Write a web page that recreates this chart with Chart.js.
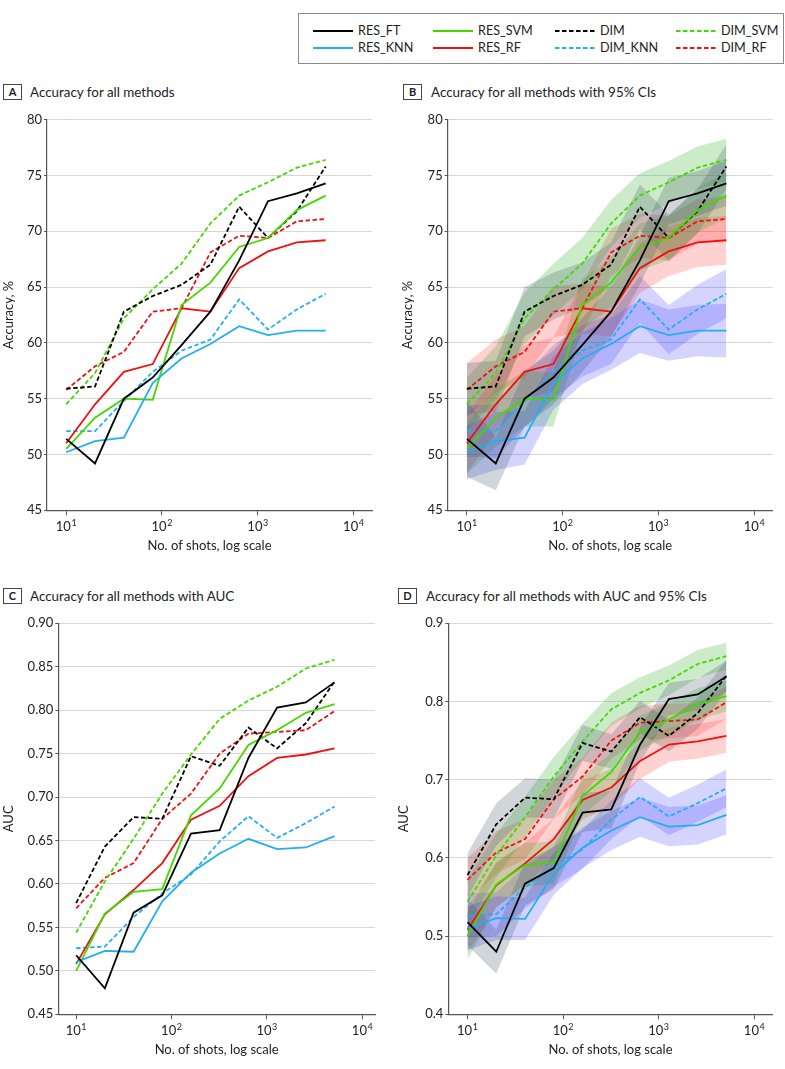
<!DOCTYPE html>
<html>
<head>
<meta charset="utf-8">
<script src="https://cdn.jsdelivr.net/npm/chart.js@4"></script>
<style>
body { margin: 0; background: #fff; font-family: Lato, 'Noto Sans', sans-serif; color: #222; }
#page { position: relative; width: 785px; height: 1069px; overflow: hidden; }
#legend { position: absolute; left: 298px; top: 13px; width: 486px; height: 51px; border: 1px solid #8a8a8a; box-sizing: border-box; }
.item { position: absolute; height: 14px; font-size: 12.6px; line-height: 14px; white-space: nowrap; }
.item svg { position: absolute; left: 0; top: 5px; }
.item span { position: absolute; left: 45px; top: 0; }
.tag { position: absolute; width: 17px; height: 14px; border: 1px solid #444; font-weight: bold; font-size: 11px; text-align: center; line-height: 14px; }
.title { position: absolute; font-size: 13.4px; line-height: 16px; white-space: nowrap; }
canvas { position: absolute; }
</style>
</head>
<body>
<div id="page">
  <div id="legend"></div>
  <div class="tag" style="left:3px;top:84px">A</div>
  <div class="title" style="left:30px;top:84px">Accuracy for all methods</div>
  <div class="tag" style="left:403px;top:84px">B</div>
  <div class="title" style="left:431px;top:84px">Accuracy for all methods with 95% CIs</div>
  <div class="tag" style="left:3px;top:588px">C</div>
  <div class="title" style="left:30px;top:588px">Accuracy for all methods with AUC</div>
  <div class="tag" style="left:398px;top:588px">D</div>
  <div class="title" style="left:426px;top:588px">Accuracy for all methods with AUC and 95% CIs</div>
  <canvas id="chartA" width="385" height="460" style="left:0px;top:100px"></canvas>
  <canvas id="chartB" width="390" height="460" style="left:395px;top:100px"></canvas>
  <canvas id="chartC" width="390" height="464" style="left:0px;top:600px"></canvas>
  <canvas id="chartD" width="390" height="464" style="left:395px;top:600px"></canvas>
</div>
<script>
// number of shots (x values)
var shots = [10, 20, 40, 80, 160, 320, 640, 1280, 2560, 5120];
var xTicks = [10, 100, 1000, 10000];
var xTickBase = '10';
var xTickExp = ['1', '2', '3', '4'];

var seriesNames = ['RES_FT', 'RES_KNN', 'RES_SVM', 'RES_RF', 'DIM', 'DIM_KNN', 'DIM_SVM', 'DIM_RF'];
var seriesColors = ['#000000', '#22aef0', '#44d800', '#f01010', '#000000', '#22aef0', '#44d800', '#f01010'];
var seriesDashed = [false, false, false, false, true, true, true, true];
var bandColors = ['rgba(60,85,100,0.24)', 'rgba(40,40,255,0.2)', 'rgba(40,170,30,0.24)', 'rgba(255,40,40,0.21)',
                  'rgba(60,85,100,0.24)', 'rgba(40,40,255,0.2)', 'rgba(40,170,30,0.24)', 'rgba(255,40,40,0.21)'];

// accuracy, %
var accResFt  = [51.4, 49.2, 55.0, 56.9, 59.8, 62.8, 67.4, 72.7, 73.4, 74.3];
var accResKnn = [50.2, 51.2, 51.5, 56.4, 58.6, 59.9, 61.5, 60.7, 61.1, 61.1];
var accResSvm = [50.5, 53.3, 55.0, 54.9, 63.4, 65.4, 68.6, 69.4, 71.9, 73.2];
var accResRf  = [51.0, 54.5, 57.4, 58.1, 63.1, 62.8, 66.7, 68.2, 69.0, 69.2];
var accDim    = [55.9, 56.1, 62.8, 64.2, 65.2, 67.0, 72.2, 69.4, 71.8, 75.8];
var accDimKnn = [52.1, 52.1, 54.8, 57.4, 59.3, 60.3, 63.9, 61.2, 63.0, 64.4];
var accDimSvm = [54.5, 57.3, 62.2, 64.8, 67.1, 70.7, 73.2, 74.4, 75.7, 76.4];
var accDimRf  = [55.8, 57.9, 59.2, 62.8, 63.1, 68.1, 69.6, 69.4, 70.9, 71.1];

// 95% CI half widths for accuracy
var ciAccResFt  = [3.4, 2.4, 2.5, 2.4, 2.4, 2.3, 2.2, 2.1, 2.0, 2.0];
var ciAccResKnn = [2.4, 2.6, 2.4, 2.4, 2.3, 2.3, 2.4, 2.3, 2.3, 2.4];
var ciAccResSvm = [2.2, 2.6, 2.5, 2.4, 2.3, 2.2, 2.1, 2.0, 2.0, 2.0];
var ciAccResRf  = [2.6, 2.6, 2.4, 2.4, 2.3, 2.2, 2.2, 2.2, 2.2, 2.2];
var ciAccDim    = [2.3, 2.3, 2.2, 2.1, 2.0, 2.0, 2.0, 2.1, 2.0, 2.0];
var ciAccDimKnn = [2.3, 2.4, 2.4, 2.4, 2.3, 2.2, 2.1, 2.2, 2.2, 2.2];
var ciAccDimSvm = [2.4, 2.4, 2.3, 2.3, 2.3, 2.1, 2.0, 1.9, 1.9, 1.9];
var ciAccDimRf  = [2.4, 2.4, 2.3, 2.3, 2.2, 2.1, 2.0, 2.0, 2.0, 2.0];

// AUC
var aucResFt  = [0.518, 0.480, 0.567, 0.587, 0.658, 0.662, 0.745, 0.803, 0.809, 0.832];
var aucResKnn = [0.510, 0.523, 0.522, 0.580, 0.613, 0.635, 0.652, 0.640, 0.642, 0.655];
var aucResSvm = [0.500, 0.566, 0.591, 0.594, 0.679, 0.710, 0.760, 0.777, 0.797, 0.807];
var aucResRf  = [0.508, 0.565, 0.593, 0.624, 0.674, 0.690, 0.724, 0.745, 0.749, 0.756];
var aucDim    = [0.578, 0.643, 0.677, 0.675, 0.747, 0.736, 0.780, 0.756, 0.785, 0.833];
var aucDimKnn = [0.526, 0.528, 0.562, 0.589, 0.611, 0.649, 0.678, 0.653, 0.670, 0.689];
var aucDimSvm = [0.544, 0.603, 0.652, 0.704, 0.749, 0.790, 0.811, 0.827, 0.848, 0.858];
var aucDimRf  = [0.572, 0.607, 0.624, 0.675, 0.704, 0.750, 0.773, 0.775, 0.777, 0.799];

// 95% CI half widths for AUC
var ciAucResFt  = [0.030, 0.028, 0.028, 0.027, 0.025, 0.024, 0.022, 0.021, 0.020, 0.020];
var ciAucResKnn = [0.028, 0.028, 0.027, 0.027, 0.026, 0.025, 0.025, 0.025, 0.025, 0.025];
var ciAucResSvm = [0.030, 0.029, 0.028, 0.027, 0.025, 0.024, 0.022, 0.021, 0.020, 0.020];
var ciAucResRf  = [0.029, 0.028, 0.027, 0.026, 0.025, 0.024, 0.023, 0.022, 0.022, 0.022];
var ciAucDim    = [0.028, 0.027, 0.025, 0.025, 0.023, 0.022, 0.021, 0.020, 0.020, 0.020];
var ciAucDimKnn = [0.028, 0.028, 0.027, 0.026, 0.025, 0.025, 0.024, 0.024, 0.024, 0.024];
var ciAucDimSvm = [0.029, 0.028, 0.026, 0.025, 0.023, 0.021, 0.020, 0.019, 0.018, 0.017];
var ciAucDimRf  = [0.028, 0.027, 0.026, 0.025, 0.024, 0.023, 0.022, 0.022, 0.021, 0.021];

var accuracy = [accResFt, accResKnn, accResSvm, accResRf, accDim, accDimKnn, accDimSvm, accDimRf];
var ciAccuracy = [ciAccResFt, ciAccResKnn, ciAccResSvm, ciAccResRf, ciAccDim, ciAccDimKnn, ciAccDimSvm, ciAccDimRf];
var auc = [aucResFt, aucResKnn, aucResSvm, aucResRf, aucDim, aucDimKnn, aucDimSvm, aucDimRf];
var ciAuc = [ciAucResFt, ciAucResKnn, ciAucResSvm, ciAucResRf, ciAucDim, ciAucDimKnn, ciAucDimSvm, ciAucDimRf];

var FONT = "Lato, 'Noto Sans', sans-serif";
var AXIS = '#555555';

function buildLegend() {
    var box = document.getElementById('legend');
    var colX = [14, 134, 256, 377];
    var rowY = [10, 27];
    seriesNames.forEach(function (name, i) {
        var item = document.createElement('div');
        item.className = 'item';
        item.style.left = colX[Math.floor(i / 2)] + 'px';
        item.style.top = rowY[i % 2] + 'px';
        var dash = seriesDashed[i] ? ' stroke-dasharray="4.5,2.5"' : '';
        item.innerHTML = '<svg width="40" height="4"><line x1="0" y1="2" x2="40" y2="2" stroke="' + seriesColors[i] +
            '" stroke-width="2"' + dash + '/></svg><span>' + name + '</span>';
        box.appendChild(item);
    });
}

// draws the 10^n tick labels with a real raised exponent
var powerLabels = {
    id: 'powerLabels',
    afterDraw: function (chart) {
        var scale = chart.scales.x;
        var ctx = chart.ctx;
        var base = scale.top + 21;
        ctx.save();
        ctx.fillStyle = '#222';
        ctx.textBaseline = 'alphabetic';
        ctx.textAlign = 'left';
        xTicks.forEach(function (v, i) {
            var px = scale.getPixelForValue(v);
            ctx.font = '13px ' + FONT;
            var w1 = ctx.measureText(xTickBase).width;
            ctx.font = '9px ' + FONT;
            var w2 = ctx.measureText(xTickExp[i]).width;
            var left = px - (w1 + w2 + 0.5) / 2;
            ctx.font = '13px ' + FONT;
            ctx.fillText(xTickBase, left, base);
            ctx.font = '9px ' + FONT;
            ctx.fillText(xTickExp[i], left + w1 + 0.5, base - 5.5);
        });
        ctx.restore();
    }
};

function points(vals, off, sign) {
    return shots.map(function (s, k) {
        return { x: s, y: off ? vals[k] + sign * off[k] : vals[k] };
    });
}

function makePanel(id, values, ci, cfg) {
    var datasets = [];
    seriesNames.forEach(function (name, i) {
        datasets.push({
            label: name,
            data: points(values[i]),
            borderColor: seriesColors[i],
            borderWidth: 1.8,
            borderDash: seriesDashed[i] ? [4.5, 2.5] : [],
            pointRadius: 0,
            fill: false,
            tension: 0
        });
    });
    if (ci) {
        seriesNames.forEach(function (name, i) {
            datasets.push({ label: name + ' upper', data: points(values[i], ci[i], 1), borderWidth: 0, pointRadius: 0, fill: false });
            datasets.push({ label: name + ' lower', data: points(values[i], ci[i], -1), borderWidth: 0, pointRadius: 0,
                fill: '-1', backgroundColor: bandColors[i] });
        });
    }
    var ctx = document.getElementById(id).getContext('2d');
    return new Chart(ctx, {
        type: 'line',
        data: { datasets: datasets },
        plugins: [powerLabels],
        options: {
            responsive: false,
            animation: false,
            layout: { padding: { top: cfg.padTop, right: cfg.padRight, left: 0, bottom: 0 } },
            plugins: {
                legend: { display: false },
                tooltip: { enabled: false },
                filler: { drawTime: 'beforeDatasetsDraw' }
            },
            scales: {
                x: {
                    type: 'logarithmic',
                    min: cfg.xMin,
                    max: cfg.xMax,
                    afterBuildTicks: function (scale) {
                        scale.ticks = xTicks.map(function (v) { return { value: v }; });
                    },
                    afterFit: function (scale) { scale.height = cfg.xHeight; },
                    ticks: {
                        autoSkip: false,
                        maxRotation: 0,
                        padding: 3,
                        font: { family: FONT, size: 13 },
                        callback: function () { return ''; }
                    },
                    grid: { drawOnChartArea: false, tickLength: 5, tickColor: AXIS },
                    border: { color: AXIS, width: 1.2 },
                    title: { display: true, text: 'No. of shots, log scale', color: '#222',
                        font: { family: FONT, size: 13 }, padding: { top: 0, bottom: 6 } }
                },
                y: {
                    min: cfg.yMin,
                    max: cfg.yMax,
                    afterBuildTicks: function (scale) {
                        scale.ticks = cfg.yTicks.map(function (v) { return { value: v }; });
                    },
                    afterFit: function (scale) { scale.width = cfg.yWidth; },
                    ticks: {
                        padding: 2,
                        color: '#222',
                        font: { family: FONT, size: 13 },
                        callback: function (v) { return v.toFixed(cfg.decimals); }
                    },
                    grid: { color: '#d6d6d6', lineWidth: 1, tickLength: 3, tickColor: AXIS },
                    border: { color: AXIS, width: 1.2 },
                    title: { display: true, text: cfg.yTitle, color: '#222',
                        font: { family: FONT, size: 13 }, padding: { top: cfg.titlePad, bottom: 0 } }
                }
            }
        }
    });
}

var accTicks = [45, 50, 55, 60, 65, 70, 75, 80];
var aucTicksC = [0.45, 0.50, 0.55, 0.60, 0.65, 0.70, 0.75, 0.80, 0.85, 0.90];
var aucTicksD = [0.4, 0.5, 0.6, 0.7, 0.8, 0.9];

buildLegend();
makePanel('chartA', accuracy, null, { padTop: 19.7, padRight: 13, yWidth: 47, xHeight: 49.7, xMin: 6.3, xMax: 15600,
    yMin: 45, yMax: 80, yTicks: accTicks, decimals: 0, yTitle: 'Accuracy, %', titlePad: 1.2 });
makePanel('chartB', accuracy, ciAccuracy, { padTop: 19.7, padRight: 12.3, yWidth: 52.7, xHeight: 49.7, xMin: 6.3, xMax: 15600,
    yMin: 45, yMax: 80, yTicks: accTicks, decimals: 0, yTitle: 'Accuracy, %', titlePad: 5.5 });
makePanel('chartC', auc, null, { padTop: 23.3, padRight: 15, yWidth: 58.3, xHeight: 49.7, xMin: 6.5, xMax: 13600,
    yMin: 0.45, yMax: 0.90, yTicks: aucTicksC, decimals: 2, yTitle: 'AUC', titlePad: 1 });
makePanel('chartD', auc, ciAuc, { padTop: 23.3, padRight: 12.3, yWidth: 53.3, xHeight: 49.7, xMin: 6.3, xMax: 15600,
    yMin: 0.4, yMax: 0.9, yTicks: aucTicksD, decimals: 1, yTitle: 'AUC', titlePad: 1.2 });
</script>
</body>
</html>
